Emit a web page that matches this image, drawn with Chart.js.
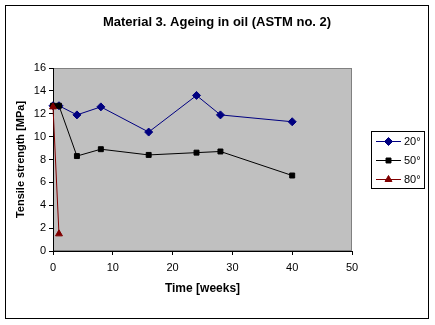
<!DOCTYPE html>
<html>
<head>
<meta charset="utf-8">
<script src="https://cdn.jsdelivr.net/npm/chart.js@4/dist/chart.umd.min.js"></script>
<style>
  html, body { margin: 0; padding: 0; background: #fff; }
  #wrap { width: 435px; height: 325px; position: relative; }
</style>
</head>
<body>
<div id="wrap"><canvas id="canvas"></canvas></div>
<script>
// values
const weeks20 = [0, 1, 4, 8, 16, 24, 28, 40];
const strength20 = [12.7, 12.7, 11.9, 12.6, 10.4, 13.6, 11.9, 11.3];
const weeks50 = [0, 1, 4, 8, 16, 24, 28, 40];
const strength50 = [12.7, 12.7, 8.3, 8.9, 8.4, 8.6, 8.7, 6.6];
const weeks80 = [0, 1];
const strength80 = [12.6, 1.5];
const seriesNames = ['20°', '50°', '80°'];
const chartTitle = 'Material 3. Ageing in oil (ASTM no. 2)';

function toPoints(xs, ys) {
  return xs.map((x, i) => ({ x: x, y: ys[i] }));
}

const FONT = '"Liberation Sans", Arial, sans-serif';
Chart.defaults.font.family = FONT;
Chart.defaults.color = '#000';

// grey plot area, outer frame and title centred on the whole frame
const backdrop = {
  id: 'backdrop',
  beforeDraw(chart) {
    const c = chart.ctx, a = chart.chartArea;
    c.save();
    c.fillStyle = '#fff';
    c.fillRect(0, 0, chart.width, chart.height);
    c.strokeStyle = '#000';
    c.lineWidth = 1;
    c.strokeRect(5.5, 5.5, 423, 313);
    c.fillStyle = '#c0c0c0';
    c.fillRect(a.left, a.top, a.right - a.left, a.bottom - a.top);
    c.strokeStyle = '#808080';
    c.strokeRect(a.left + 0.5, a.top + 0.5, a.right - a.left - 1, a.bottom - a.top - 1);
    c.fillStyle = '#000';
    c.font = 'bold 13px ' + FONT;
    c.textAlign = 'center';
    c.textBaseline = 'middle';
    c.fillText(chartTitle, 217, 22);
    c.restore();
  }
};

// boxed legend like the original
const boxLegend = {
  id: 'boxLegend',
  afterDraw(chart) {
    const c = chart.ctx;
    c.save();
    c.fillStyle = '#fff';
    c.fillRect(371, 131, 53, 57);
    c.strokeStyle = '#000';
    c.lineWidth = 1;
    c.strokeRect(371.5, 131.5, 53, 57);
    const ys = [141, 160, 179];
    chart.data.datasets.forEach((ds, i) => {
      const y = ys[i];
      c.strokeStyle = ds.borderColor;
      c.fillStyle = ds.backgroundColor;
      c.beginPath();
      c.moveTo(376, y + 0.5);
      c.lineTo(401, y + 0.5);
      c.stroke();
      Chart.helpers.drawPoint(c, {
        pointStyle: ds.pointStyle,
        radius: ds.pointRadius,
        borderWidth: 1
      }, 388.5, y + 0.5);
      c.fillStyle = '#000';
      c.font = '11px ' + FONT;
      c.textBaseline = 'middle';
      c.fillText(ds.label, 404, y + 1);
    });
    c.restore();
  }
};

new Chart(document.getElementById('canvas'), {
  type: 'scatter',
  data: {
    datasets: [
      {
        label: seriesNames[0],
        data: toPoints(weeks20, strength20),
        showLine: true,
        clip: false,
        order: 2,
        borderColor: '#000080',
        backgroundColor: '#000080',
        borderWidth: 1,
        pointStyle: 'rectRot',
        pointRadius: 4,
        pointBorderWidth: 1
      },
      {
        label: seriesNames[1],
        data: toPoints(weeks50, strength50),
        showLine: true,
        clip: false,
        order: 1,
        borderColor: '#000000',
        backgroundColor: '#000000',
        borderWidth: 1,
        pointStyle: 'rect',
        pointRadius: 3.5,
        pointBorderWidth: 1
      },
      {
        label: seriesNames[2],
        data: toPoints(weeks80, strength80),
        showLine: true,
        clip: false,
        order: 0,
        borderColor: '#800000',
        backgroundColor: '#800000',
        borderWidth: 1,
        pointStyle: 'triangle',
        pointRadius: 4,
        pointBorderWidth: 1
      }
    ]
  },
  options: {
    responsive: true,
    maintainAspectRatio: false,
    animation: false,
    layout: { padding: { left: 10, right: 83, top: 68, bottom: 25 } },
    plugins: {
      legend: { display: false },
      tooltip: { enabled: false },
      title: { display: false }
    },
    scales: {
      x: {
        type: 'linear',
        min: 0,
        max: 50,
        ticks: { stepSize: 10, padding: 6, font: { size: 11 }, color: '#000' },
        grid: { drawOnChartArea: false, tickLength: 4, color: '#000' },
        border: { color: '#000' },
        title: {
          display: true,
          text: 'Time [weeks]',
          font: { size: 12, weight: 'bold' },
          color: '#000'
        },
        afterFit(scale) { scale.height = 49; }
      },
      y: {
        min: 0,
        max: 16,
        ticks: { stepSize: 2, padding: 3, font: { size: 11 }, color: '#000' },
        grid: { drawOnChartArea: false, tickLength: 4, color: '#000' },
        border: { color: '#000' },
        title: {
          display: true,
          text: 'Tensile strength [MPa]',
          font: { size: 11, weight: 'bold' },
          color: '#000'
        },
        afterFit(scale) { scale.width = 43; }
      }
    }
  },
  plugins: [backdrop, boxLegend]
});
</script>
</body>
</html>
